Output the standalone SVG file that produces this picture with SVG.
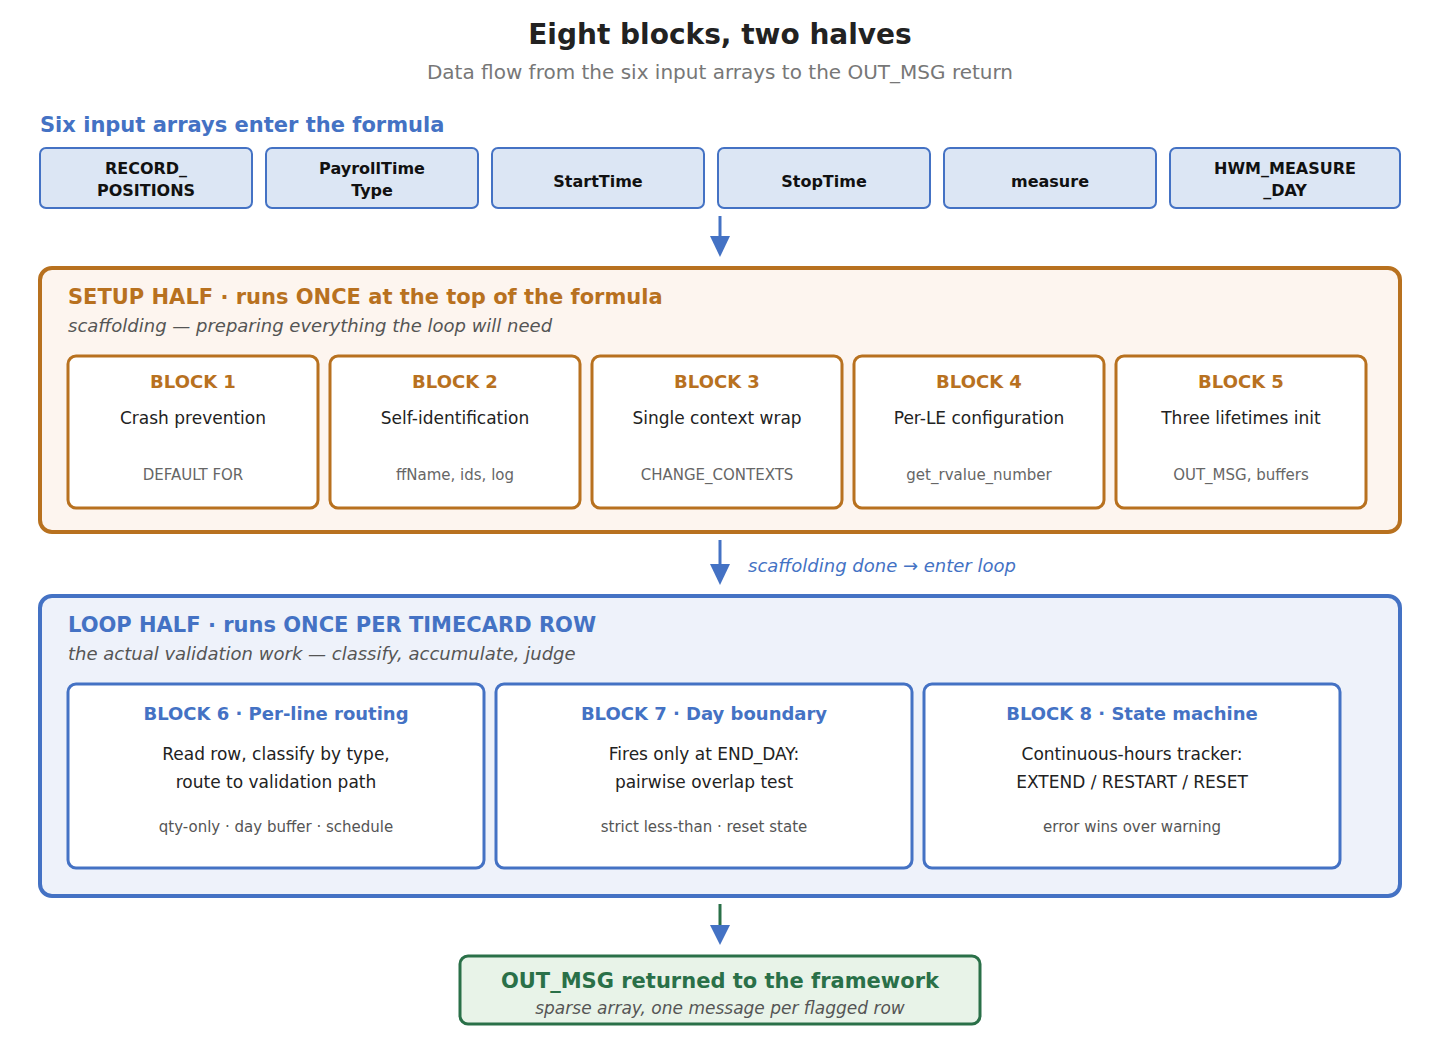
<svg xmlns="http://www.w3.org/2000/svg" width="1440" height="1040" viewBox="0 0 1440 1040">
<style>
text{font-family:"DejaVu Sans",sans-serif;text-anchor:middle}
.in rect{fill:#dce6f4;stroke:#4472c4;stroke-width:2}
.in text{font-size:16px;font-weight:bold;fill:#111}
.sb rect{fill:#fff;stroke:#b8711f;stroke-width:3}
.sb .h{font-size:18px;font-weight:bold;fill:#b8711f}
.lb rect{fill:#fff;stroke:#4472c4;stroke-width:3}
.lb .h{font-size:18px;font-weight:bold;fill:#4472c4}
.b{font-size:17px;fill:#222}
.s{font-size:15px;fill:#666}
.lb .s{fill:#555}
</style>
<defs>
<marker id="ah" viewBox="0 0 10 10" refX="5" refY="10" markerWidth="20" markerHeight="20" markerUnits="userSpaceOnUse" orient="auto-start-reverse"><path d="M0,0L10,0L5,10z" fill="#4472c4" transform="rotate(0)"/></marker>
</defs>
<rect width="1440" height="1040" fill="#fff"/>
<text x="720" y="44" style="font-size:28px;font-weight:bold;fill:#222">Eight blocks, two halves</text>
<text x="720" y="79" style="font-size:20px;fill:#777">Data flow from the six input arrays to the OUT_MSG return</text>
<text x="40" y="132" style="font-size:21px;font-weight:bold;fill:#4472c4;text-anchor:start">Six input arrays enter the formula</text>
<g class="in" id="in1"><rect x="40" y="148" width="212" height="60" rx="6"/><text x="146" y="174">RECORD_</text><text x="146" y="196">POSITIONS</text></g>
<g class="in" id="in2"><rect x="266" y="148" width="212" height="60" rx="6"/><text x="372" y="174">PayrollTime</text><text x="372" y="196">Type</text></g>
<g class="in" id="in3"><rect x="492" y="148" width="212" height="60" rx="6"/><text x="598" y="187">StartTime</text></g>
<g class="in" id="in4"><rect x="718" y="148" width="212" height="60" rx="6"/><text x="824" y="187">StopTime</text></g>
<g class="in" id="in5"><rect x="944" y="148" width="212" height="60" rx="6"/><text x="1050" y="187">measure</text></g>
<g class="in" id="in6"><rect x="1170" y="148" width="230" height="60" rx="6"/><text x="1285" y="174">HWM_MEASURE</text><text x="1285" y="196">_DAY</text></g>
<g id="setup">
<rect x="40" y="268" width="1360" height="264" rx="12" fill="#fdf5ef" stroke="#b8711f" stroke-width="4"/>
<text x="68" y="304" style="font-size:21px;font-weight:bold;fill:#b8711f;text-anchor:start">SETUP HALF · runs ONCE at the top of the formula</text>
<text x="68" y="332" style="font-size:18px;font-style:italic;fill:#555;text-anchor:start">scaffolding — preparing everything the loop will need</text>
</g>
<g class="sb" id="b1"><rect x="68" y="356" width="250" height="152" rx="8"/><text class="h" x="193" y="388">BLOCK 1</text><text class="b" x="193" y="424">Crash prevention</text><text class="s" x="193" y="480">DEFAULT FOR</text></g>
<g class="sb" id="b2"><rect x="330" y="356" width="250" height="152" rx="8"/><text class="h" x="455" y="388">BLOCK 2</text><text class="b" x="455" y="424">Self-identification</text><text class="s" x="455" y="480">ffName, ids, log</text></g>
<g class="sb" id="b3"><rect x="592" y="356" width="250" height="152" rx="8"/><text class="h" x="717" y="388">BLOCK 3</text><text class="b" x="717" y="424">Single context wrap</text><text class="s" x="717" y="480">CHANGE_CONTEXTS</text></g>
<g class="sb" id="b4"><rect x="854" y="356" width="250" height="152" rx="8"/><text class="h" x="979" y="388">BLOCK 4</text><text class="b" x="979" y="424">Per-LE configuration</text><text class="s" x="979" y="480">get_rvalue_number</text></g>
<g class="sb" id="b5"><rect x="1116" y="356" width="250" height="152" rx="8"/><text class="h" x="1241" y="388">BLOCK 5</text><text class="b" x="1241" y="424">Three lifetimes init</text><text class="s" x="1241" y="480">OUT_MSG, buffers</text></g>
<g id="loop">
<rect x="40" y="596" width="1360" height="300" rx="12" fill="#eef2fa" stroke="#4472c4" stroke-width="4"/>
<text x="68" y="632" style="font-size:21px;font-weight:bold;fill:#4472c4;text-anchor:start">LOOP HALF · runs ONCE PER TIMECARD ROW</text>
<text x="68" y="660" style="font-size:18px;font-style:italic;fill:#555;text-anchor:start">the actual validation work — classify, accumulate, judge</text>
</g>
<g class="lb" id="b6"><rect x="68" y="684" width="416" height="184" rx="8"/><text class="h" x="276" y="720">BLOCK 6 · Per-line routing</text><text class="b" x="276" y="760">Read row, classify by type,</text><text class="b" x="276" y="788">route to validation path</text><text class="s" x="276" y="832">qty-only · day buffer · schedule</text></g>
<g class="lb" id="b7"><rect x="496" y="684" width="416" height="184" rx="8"/><text class="h" x="704" y="720">BLOCK 7 · Day boundary</text><text class="b" x="704" y="760">Fires only at END_DAY:</text><text class="b" x="704" y="788">pairwise overlap test</text><text class="s" x="704" y="832">strict less-than · reset state</text></g>
<g class="lb" id="b8"><rect x="924" y="684" width="416" height="184" rx="8"/><text class="h" x="1132" y="720">BLOCK 8 · State machine</text><text class="b" x="1132" y="760">Continuous-hours tracker:</text><text class="b" x="1132" y="788">EXTEND / RESTART / RESET</text><text class="s" x="1132" y="832">error wins over warning</text></g>
<g id="out">
<rect x="460" y="956" width="520" height="68" rx="8" fill="#e8f3e8" stroke="#2a7048" stroke-width="3"/>
<text x="720" y="988" style="font-size:21px;font-weight:bold;fill:#2a7048">OUT_MSG returned to the framework</text>
<text x="720" y="1014" style="font-size:17px;font-style:italic;fill:#555">sparse array, one message per flagged row</text>
</g>
<g id="connectors">
<line x1="720" y1="216" x2="720" y2="238" stroke="#4472c4" stroke-width="3"/><path d="M710,236L730,236L720,257z" fill="#4472c4"/>
<line x1="720" y1="540" x2="720" y2="566" stroke="#4472c4" stroke-width="3"/><path d="M710,564L730,564L720,585z" fill="#4472c4"/>
<text x="748" y="572" style="font-size:18px;font-style:italic;fill:#4472c4;text-anchor:start">scaffolding done → enter loop</text>
<line x1="720" y1="904" x2="720" y2="927" stroke="#2a7048" stroke-width="3"/><path d="M710,925L730,925L720,945z" fill="#4472c4"/>
</g>
</svg>
